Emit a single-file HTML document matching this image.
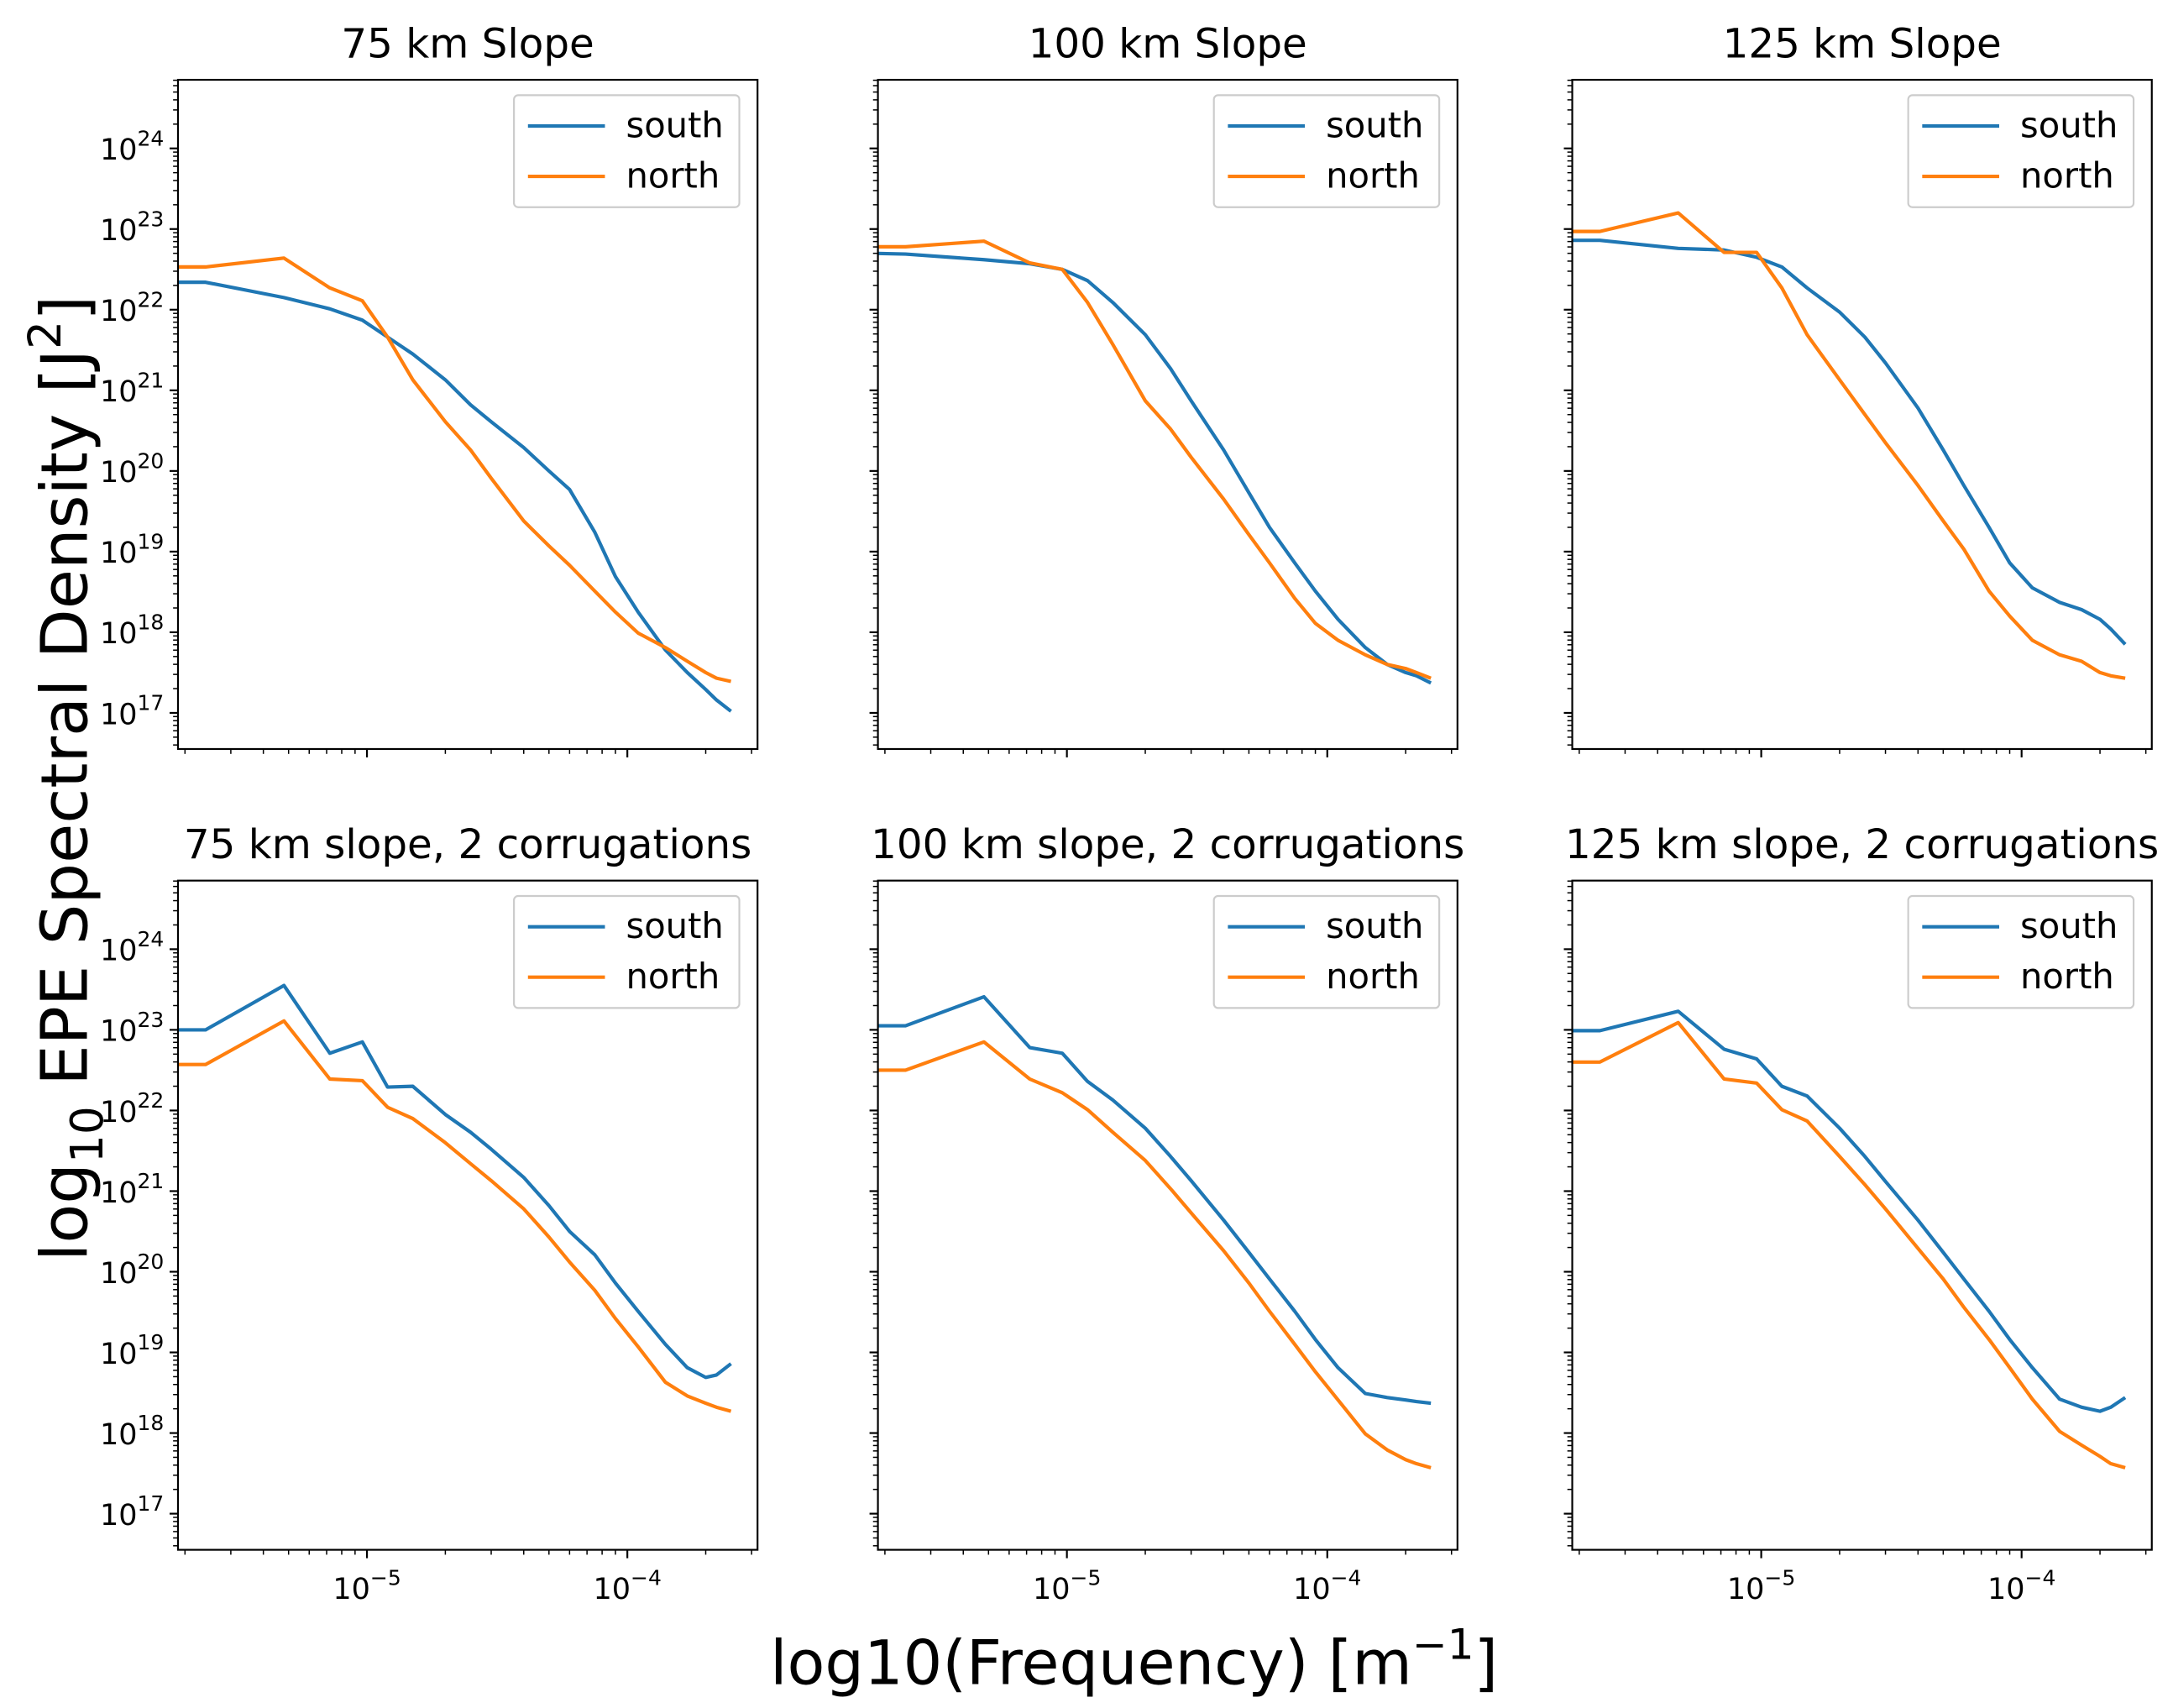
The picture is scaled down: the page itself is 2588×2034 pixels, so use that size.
<!DOCTYPE html>
<html><head><meta charset="utf-8"><style>
html,body{margin:0;padding:0;background:#fff}
svg{display:block}
text{font-family:"DejaVu Sans","Liberation Sans",sans-serif;fill:#000}
</style></head><body>
<svg id="fig" width="2588" height="2034" viewBox="0 0 1552 1220" xmlns="http://www.w3.org/2000/svg"></svg>
<script>
// shared frequency grid [m^-1]
const freqs = [1.2e-6, 2.4e-6, 4.8e-6, 7.2e-6, 9.6e-6, 1.2e-5, 1.5e-5, 2.0e-5, 2.5e-5, 3.0e-5, 4.0e-5, 5.0e-5, 6.0e-5, 7.5e-5, 9.0e-5, 1.1e-4, 1.4e-4, 1.7e-4, 2.0e-4, 2.2e-4, 2.5e-4];
const panelTitles = ["75 km Slope","100 km Slope","125 km Slope","75 km slope, 2 corrugations","100 km slope, 2 corrugations","125 km slope, 2 corrugations"];
// log10 of spectral density values
const south1 = [22.34,22.34,22.15,22.01,21.87,21.66,21.45,21.13,20.82,20.61,20.29,20.00,19.77,19.24,18.69,18.25,17.78,17.50,17.29,17.16,17.02];
const north1 = [22.53,22.53,22.64,22.27,22.11,21.66,21.13,20.61,20.26,19.91,19.38,19.07,18.83,18.51,18.25,17.99,17.81,17.64,17.50,17.43,17.39];
const south2 = [22.71,22.69,22.62,22.57,22.50,22.36,22.09,21.69,21.27,20.87,20.26,19.73,19.30,18.86,18.51,18.16,17.81,17.60,17.50,17.46,17.37];
const north2 = [22.78,22.78,22.85,22.58,22.50,22.09,21.57,20.87,20.52,20.17,19.65,19.21,18.86,18.42,18.11,17.90,17.72,17.60,17.55,17.50,17.43];
const south3 = [22.86,22.86,22.76,22.74,22.65,22.53,22.27,21.97,21.66,21.34,20.78,20.26,19.82,19.30,18.86,18.55,18.37,18.28,18.16,18.04,17.85];
const north3 = [22.97,22.97,23.20,22.71,22.71,22.27,21.69,21.13,20.70,20.35,19.82,19.38,19.03,18.51,18.20,17.90,17.72,17.64,17.50,17.46,17.43];
const south4 = [23.00,23.00,23.55,22.71,22.85,22.29,22.30,21.95,21.73,21.52,21.17,20.82,20.50,20.21,19.86,19.51,19.10,18.81,18.69,18.72,18.86];
const north4 = [22.57,22.57,23.11,22.39,22.37,22.04,21.90,21.60,21.34,21.13,20.78,20.43,20.12,19.77,19.42,19.07,18.63,18.46,18.37,18.32,18.27];
const south5 = [23.05,23.05,23.41,22.78,22.71,22.36,22.13,21.78,21.43,21.13,20.64,20.24,19.91,19.51,19.16,18.81,18.49,18.44,18.41,18.39,18.37];
const north5 = [22.50,22.50,22.85,22.39,22.22,22.01,21.73,21.38,21.03,20.73,20.26,19.86,19.51,19.10,18.76,18.41,17.99,17.79,17.67,17.62,17.57];
const south6 = [22.99,22.99,23.23,22.76,22.64,22.30,22.18,21.78,21.43,21.12,20.64,20.24,19.91,19.51,19.16,18.81,18.42,18.32,18.27,18.32,18.44];
const north6 = [22.60,22.60,23.09,22.39,22.34,22.01,21.87,21.43,21.08,20.78,20.29,19.91,19.56,19.16,18.81,18.42,18.02,17.85,17.71,17.62,17.57];
const southSeries = [south1,south2,south3,south4,south5,south6];
const northSeries = [north1,north2,north3,north4,north5,north6];
const yTickExps = [17,18,19,20,21,22,23,24];
const xTickExps = [-5,-4];

const NS="http://www.w3.org/2000/svg";
const svg=document.getElementById('fig');
function mk(tag,attrs,parent){const e=document.createElementNS(NS,tag);for(const k in attrs)e.setAttribute(k,attrs[k]);(parent||svg).appendChild(e);return e;}
const colX=[127,627,1123], rowY=[57,629], W=414, H=478;
const Y24=49, DEC=57.6, XM5=135, XDEC=186;
function sx(x0,f){return x0+XM5+(Math.log10(f)+5)*XDEC;}
function sy(y0,e){return y0+Y24+(24-e)*DEC;}
const C_S="#1f77b4", C_N="#ff7f0e";

for(let p=0;p<6;p++){
  const x0=colX[p%3], y0=rowY[Math.floor(p/3)];
  const g=mk('g',{});
  
  
  const cp=mk('clipPath',{id:'c'+p},g); mk('rect',{x:x0,y:y0,width:W,height:H},cp);
  const sL=mk('polyline',{points:freqs.map((f,i)=>sx(x0,f).toFixed(2)+','+sy(y0,southSeries[p][i]).toFixed(2)).join(' '),fill:'none',stroke:C_S,'stroke-width':2.5,'stroke-linejoin':'round','clip-path':'url(#c'+p+')'},g);
  
  
  const nL=mk('polyline',{points:freqs.map((f,i)=>sx(x0,f).toFixed(2)+','+sy(y0,northSeries[p][i]).toFixed(2)).join(' '),fill:'none',stroke:C_N,'stroke-width':2.5,'stroke-linejoin':'round','clip-path':'url(#c'+p+')'},g);
  
  
  const fr=mk('rect',{x:x0,y:y0,width:W,height:H,fill:'none',stroke:'#000','stroke-width':1.3},g);
  
  
  for(let e=16;e<=24;e++){
    for(let m=1;m<=9;m++){
      const y=sy(y0,e+Math.log10(m));
      if(y<y0||y>y0+H)continue;
      const len=m===1?6:3.5;
      mk('line',{x1:x0,x2:x0-len,y1:y,y2:y,stroke:'#000','stroke-width':m===1?1.3:0.9},g);
    }
  }
  if(p%3===0){
    yTickExps.forEach(e=>{
      const y=sy(y0,e);
      const t=mk('text',{x:x0-10,y:y+8,'text-anchor':'end','font-size':21},g);
      
      
      t.innerHTML='10<tspan dy="-10" font-size="15">'+e+'</tspan>';
    });
  }
  for(let e=-6;e<=-4;e++){
    for(let m=1;m<=9;m++){
      const x=sx(x0,m*Math.pow(10,e));
      if(x<x0||x>x0+W)continue;
      const len=m===1?6:3.5;
      mk('line',{x1:x,x2:x,y1:y0+H,y2:y0+H+len,stroke:'#000','stroke-width':m===1?1.3:0.9},g);
    }
  }
  if(p>=3){
    xTickExps.forEach(e=>{
      const x=sx(x0,Math.pow(10,e));
      const t=mk('text',{x:x,y:y0+H+35,'text-anchor':'middle','font-size':21},g);
      
      
      t.innerHTML='10<tspan dy="-10" font-size="15">\u2212'+(-e)+'</tspan>';
    });
  }
  const tt=mk('text',{x:x0+W/2,y:y0-16,'text-anchor':'middle','font-size':29},g);
  
  
  tt.textContent=panelTitles[p];
  const lg=mk('g',{},g);
  
  
  mk('rect',{x:x0+240,y:y0+11,width:161,height:80,rx:3,fill:'#fff','fill-opacity':0.8,stroke:'#ccc','stroke-width':1.3},lg);
  [['south',C_S,33],['north',C_N,69]].forEach(([lab,c,dy])=>{
    mk('line',{x1:x0+250,x2:x0+305,y1:y0+dy,y2:y0+dy,stroke:c,'stroke-width':2.5},lg);
    const t=mk('text',{x:x0+320,y:y0+dy+8,'font-size':25},lg);
    
    
    t.textContent=lab;
  });
}
const xl=mk('text',{x:810,y:1203,'text-anchor':'middle','font-size':44});


xl.innerHTML='log10(Frequency) [m<tspan dy="-18" font-size="30">\u22121</tspan><tspan dy="18">]</tspan>';
const yl=mk('text',{x:0,y:0,'text-anchor':'middle','font-size':46,transform:'translate(62,556) rotate(-90)'});


yl.innerHTML='log<tspan dy="11" font-size="32">10</tspan><tspan dy="-11"> EPE Spectral Density [J</tspan><tspan dy="-19" font-size="32">2</tspan><tspan dy="19">]</tspan>';
</script>
</body></html>
